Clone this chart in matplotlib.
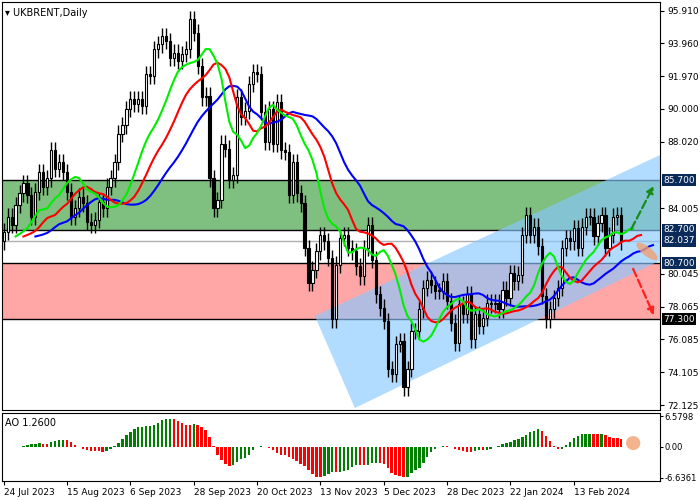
import numpy as np
import pandas as pd
import matplotlib
matplotlib.use("Agg")
import matplotlib.pyplot as plt
from matplotlib.patches import Polygon

# daily closes, 24 Jul 2023 .. 29 Feb 2024
closes = [
    82.6, 83.5, 83.0, 84.2, 84.9, 85.5,
    84.8, 83.5, 85.0, 86.2, 85.3, 85.8, 87.5, 86.4, 86.8, 86.2, 85.0, 83.5, 84.0, 84.7,
    84.3, 83.2, 83.0, 83.3, 84.4, 84.0, 85.3, 85.8, 86.8,
    88.5, 89.0, 90.0, 90.6, 90.3, 90.6, 90.2, 92.1, 92.0, 93.6, 93.9, 94.4, 94.1, 93.1,
    93.4, 92.9, 93.3, 93.6, 95.4, 94.6, 92.6,
    90.7, 90.8, 85.8, 84.0, 84.5, 87.9, 87.6, 85.7, 86.0, 90.7, 89.5, 89.9, 91.5, 92.2,
    92.1, 89.8, 88.0, 90.0, 87.9, 90.4, 87.5, 87.4,
    84.8, 86.8, 84.9, 84.3, 81.6, 79.5, 80.3, 81.4, 82.4, 82.0, 81.0, 77.3, 80.6, 82.2,
    82.4, 81.6, 81.4, 80.5, 79.9, 81.6, 83.0, 80.9,
    78.8, 78.0, 77.2, 74.3, 74.0, 75.8, 76.0, 73.2, 74.3, 76.6, 76.6, 77.9, 79.2, 79.7,
    79.4, 79.0, 79.0, 79.6, 78.4, 77.1,
    75.9, 78.2, 77.6, 78.8, 76.1, 77.6, 76.9, 77.4, 78.3, 78.2, 78.3, 77.9, 79.1, 78.6,
    80.1, 79.6, 80.0, 82.4, 83.6, 82.4, 82.9, 81.7,
    78.7, 77.3, 77.9, 78.6, 79.2, 81.6, 82.2, 82.0, 82.8, 81.6, 82.9, 83.5, 83.5, 82.3,
    83.1, 83.6, 81.6, 82.4, 83.5, 83.6, 82.0,
]
first_open = 82.0
wick = 0.5

date_labels = ["24 Jul 2023", "15 Aug 2023", "6 Sep 2023", "28 Sep 2023", "20 Oct 2023",
               "13 Nov 2023", "5 Dec 2023", "28 Dec 2023", "22 Jan 2024", "13 Feb 2024"]
price_ticks = [95.910, 93.960, 91.970, 90.000, 88.020, 84.005, 80.045, 78.065,
               76.085, 74.105, 72.125]
green_zone = (82.7, 85.7)
red_zone = (77.3, 80.7)
last_price = 82.037
ao_ticks = [6.5798, 0.0, -6.6361]

closes = np.array(closes)
opens = np.concatenate([[first_open], closes[:-1]])
highs = np.maximum(opens, closes) + wick
lows = np.minimum(opens, closes) - wick
n = len(closes)
idx = np.arange(n)
mid = pd.Series((highs + lows) / 2)

fig = plt.figure(figsize=(7, 5), dpi=100)
ax = fig.add_axes([0.003, 0.18, 0.94, 0.816])
ax2 = fig.add_axes([0.003, 0.038, 0.94, 0.136])
xlim = (-0.4, 165.8)

# zones
ax.axhspan(*green_zone, color="#008000", alpha=0.5, lw=0, zorder=0)
ax.axhspan(*red_zone, color="#ff5050", alpha=0.5, lw=0, zorder=0)
for lv in [green_zone[1], green_zone[0], red_zone[1], red_zone[0]]:
    ax.axhline(lv, color="black", lw=1, zorder=1)
ax.axhline(last_price, color="#b0b0b0", lw=1, zorder=1)

# channel
chan = Polygon([(78.6, 77.5), (167.8, 87.44), (178.4, 82.3), (88.7, 71.95)],
               closed=True, color="#88c8ff", alpha=0.65, lw=0, zorder=2)
ax.add_patch(chan)

# candles
for i in idx:
    o, c = opens[i], closes[i]
    ax.vlines(i, lows[i], highs[i], color="black", lw=1, zorder=3)
    fc = "white" if c >= o else "black"
    ax.bar(i, max(abs(c - o), 0.05), bottom=min(o, c), width=0.55,
           facecolor=fc, edgecolor="black", lw=0.8, zorder=4)

# alligator
def smma(s, p):
    return s.ewm(alpha=1.0 / p, adjust=False).mean()

for p, sh, col in [(13, 8, "#0000ff"), (8, 5, "#ff0000"), (5, 3, "#00ee00")]:
    line = smma(mid, p)
    ax.plot(idx + sh, line, color=col, lw=1.5, zorder=5)

# forecast arrows
ax.annotate("", xy=(164.5, 85.5), xytext=(158.2, 82.6),
            arrowprops=dict(arrowstyle="-|>", ls="--", color="#1a8a1a", lw=1.6), zorder=6)
ax.annotate("", xy=(164.5, 77.4), xytext=(158.7, 80.5),
            arrowprops=dict(arrowstyle="-|>", ls="--", color="#ff2020", lw=1.6), zorder=6)
t = np.linspace(0, 2 * np.pi, 60)
a, b, ang = 13, 4.5, np.deg2rad(-38)
ex = a * np.cos(t) * np.cos(ang) - b * np.sin(t) * np.sin(ang)
ey = a * np.cos(t) * np.sin(ang) + b * np.sin(t) * np.cos(ang)
ax.fill(162.5 + ex / 3.96, 81.4 + ey / 16.65, color="#f0a070", alpha=0.8, lw=0, zorder=6)

ax.set_xlim(*xlim)
ax.set_ylim(71.83, 96.45)
ax.yaxis.tick_right()
ax.set_yticks(price_ticks)
ax.set_yticklabels([f"{v:.3f}" for v in price_ticks], fontsize=6.5)
ax.set_xticks([])
ax.tick_params(axis="y", length=3, pad=2)
for lv, bg in [(85.7, "#0a2a5a"), (82.7, "#0a2a5a"), (82.037, "#0a2a5a"),
               (80.7, "#0a2a5a"), (77.3, "black")]:
    ax.text(1.005, lv, f"{lv:.3f}", transform=ax.get_yaxis_transform(), fontsize=6.5,
            color="white", va="center", ha="left",
            bbox=dict(boxstyle="square,pad=0.15", fc=bg, ec="none"))
ax.text(0.005, 0.985, "\u25BE UKBRENT,Daily", transform=ax.transAxes, fontsize=7,
        va="top", ha="left")

# awesome oscillator
ao = (mid.rolling(5, min_periods=1).mean() - mid.rolling(34, min_periods=1).mean()).values
ao_col = ["#008000" if i == 0 or ao[i] >= ao[i - 1] else "#ff0000" for i in idx]
ax2.bar(idx, ao, width=0.6, color=ao_col)
ax2.fill(159 + 1.8 * np.cos(t), ao[-1] / 2 + 1.5 * np.sin(t), color="#f0a070",
         alpha=0.8, lw=0)
ax2.set_xlim(*xlim)
ax2.set_ylim(-7.3, 7.3)
ax2.yaxis.tick_right()
ax2.set_yticks(ao_ticks)
ax2.set_yticklabels(["6.5798", "0.00", "-6.6361"], fontsize=6)
ax2.tick_params(axis="y", length=2, pad=1)
ax2.set_xticks(np.arange(0, 160, 16))
ax2.set_xticklabels(date_labels, fontsize=6.5, ha="left")
ax2.tick_params(axis="x", length=3, pad=2)
ax2.text(0.005, 0.93, "AO 1.2600", transform=ax2.transAxes, fontsize=7, va="top")

fig.savefig("out.png", dpi=100)
